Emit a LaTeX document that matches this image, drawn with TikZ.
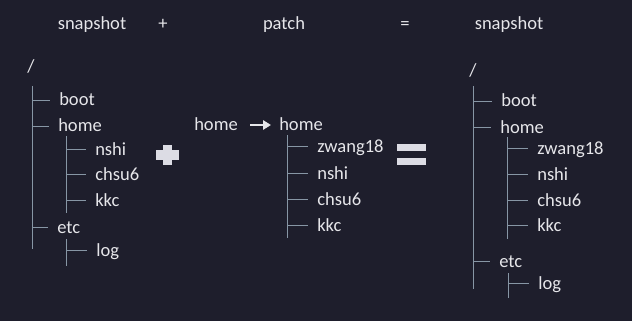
\documentclass[tikz,border=0pt]{standalone}
\usepackage{fontspec}
\setmainfont{Carlito}
\usetikzlibrary{arrows.meta}

\definecolor{bgnavy}{HTML}{1E1E2C}
\definecolor{txtgray}{HTML}{E6E6EA}
\definecolor{linegray}{HTML}{8796A5}
\definecolor{symgray}{HTML}{DCDCE4}

\begin{document}
\begin{tikzpicture}[
  x=0.75pt, y=-0.75pt,
  entry/.style={
    anchor=west, inner xsep=0pt, inner ysep=0pt,
    text height=0.9em, text depth=0pt, text=txtgray,
    font=\fontsize{13.9}{16}\selectfont
  },
  hdr/.style={entry, anchor=center},
  tree/.style={draw=linegray, line width=0.7pt},
  branch/.style={tree, shorten >=6.5pt},
  patcharr/.style={-{Triangle[length=6pt,width=7pt]}, line width=2pt,
    txtgray, shorten <=9pt, shorten >=6pt},
]

\fill[bgnavy] (0,0) rectangle (632,321);

%% --- Header row ------------------------------------------------------
\node[hdr] (hsnapL) at (92,24)  {snapshot};
\node[hdr] (hplus)  at (163,24) {+};
\node[hdr] (hpatch) at (284,24) {patch};
\node[hdr] (hequal) at (405,24) {=};
\node[hdr] (hsnapR) at (509,24) {snapshot};

%% --- Snapshot tree (left) ---------------------------------------------
\node[entry] (rootL) at (27,67)  {/};
\node[entry] (bootL) at (59,100) {boot};
\node[entry] (homeL) at (58,126) {home};
\node[entry] (nshiL) at (95,149) {nshi};
\node[entry] (chsuL) at (95,174) {chsu6};
\node[entry] (kkcL)  at (95,200) {kkc};
\node[entry] (etcL)  at (57,227) {etc};
\node[entry] (logL)  at (96,250) {log};

\coordinate (trunkL)    at (32,86);
\coordinate (trunkLend) at (32,249);
\coordinate (homeLsub)  at (66,136);
\coordinate (homeLend)  at (66,213);
\coordinate (etcLsub)   at (66,239);
\coordinate (etcLend)   at (66,266);

\draw[tree] (trunkL) -- (trunkLend);
\draw[tree] (homeLsub) -- (homeLend);
\draw[tree] (etcLsub) -- (etcLend);
\foreach \n in {bootL,homeL,etcL}
  \draw[branch] (\n.west -| trunkL) -- (\n.west);
\foreach \n in {nshiL,chsuL,kkcL}
  \draw[branch] (\n.west -| homeLsub) -- (\n.west);
\draw[branch] (logL.west -| etcLsub) -- (logL.west);

%% --- Big plus ---------------------------------------------------------
\fill[symgray] (156,150) rectangle (179,160);
\fill[symgray] (163,145) rectangle (172,165);

%% --- Patch ------------------------------------------------------------
\node[entry] (homeP0) at (194,125) {home};
\node[entry] (homeP)  at (279,125) {home};
\node[entry] (zwangP) at (317,146) {zwang18};
\node[entry] (nshiP)  at (317,173) {nshi};
\node[entry] (chsuP)  at (317,199) {chsu6};
\node[entry] (kkcP)   at (317,225) {kkc};

\draw[patcharr] (homeP0.east) -- (homeP.west);

\coordinate (homePsub) at (287,135);
\coordinate (homePend) at (287,238);
\draw[tree] (homePsub) -- (homePend);
\foreach \n in {zwangP,nshiP,chsuP,kkcP}
  \draw[branch] (\n.west -| homePsub) -- (\n.west);

%% --- Big equals -------------------------------------------------------
\fill[symgray] (397,144) rectangle (426,151);
\fill[symgray] (397,158) rectangle (426,165);

%% --- Resulting snapshot (right) ---------------------------------------
\node[entry] (rootR)  at (469,71)  {/};
\node[entry] (bootR)  at (501,101) {boot};
\node[entry] (homeR)  at (500,127) {home};
\node[entry] (zwangR) at (537,148) {zwang18};
\node[entry] (nshiR)  at (537,174) {nshi};
\node[entry] (chsuR)  at (537,200) {chsu6};
\node[entry] (kkcR)   at (537,225) {kkc};
\node[entry] (etcR)   at (499,261) {etc};
\node[entry] (logR)   at (538,283) {log};

\coordinate (trunkR)    at (473,86);
\coordinate (trunkRend) at (473,289);
\coordinate (homeRsub)  at (507,137);
\coordinate (homeRend)  at (507,239);
\coordinate (etcRsub)   at (508,273);
\coordinate (etcRend)   at (508,298);

\draw[tree] (trunkR) -- (trunkRend);
\draw[tree] (homeRsub) -- (homeRend);
\draw[tree] (etcRsub) -- (etcRend);
\foreach \n in {bootR,homeR,etcR}
  \draw[branch] (\n.west -| trunkR) -- (\n.west);
\foreach \n in {zwangR,nshiR,chsuR,kkcR}
  \draw[branch] (\n.west -| homeRsub) -- (\n.west);
\draw[branch] (logR.west -| etcRsub) -- (logR.west);

\end{tikzpicture}
\end{document}
